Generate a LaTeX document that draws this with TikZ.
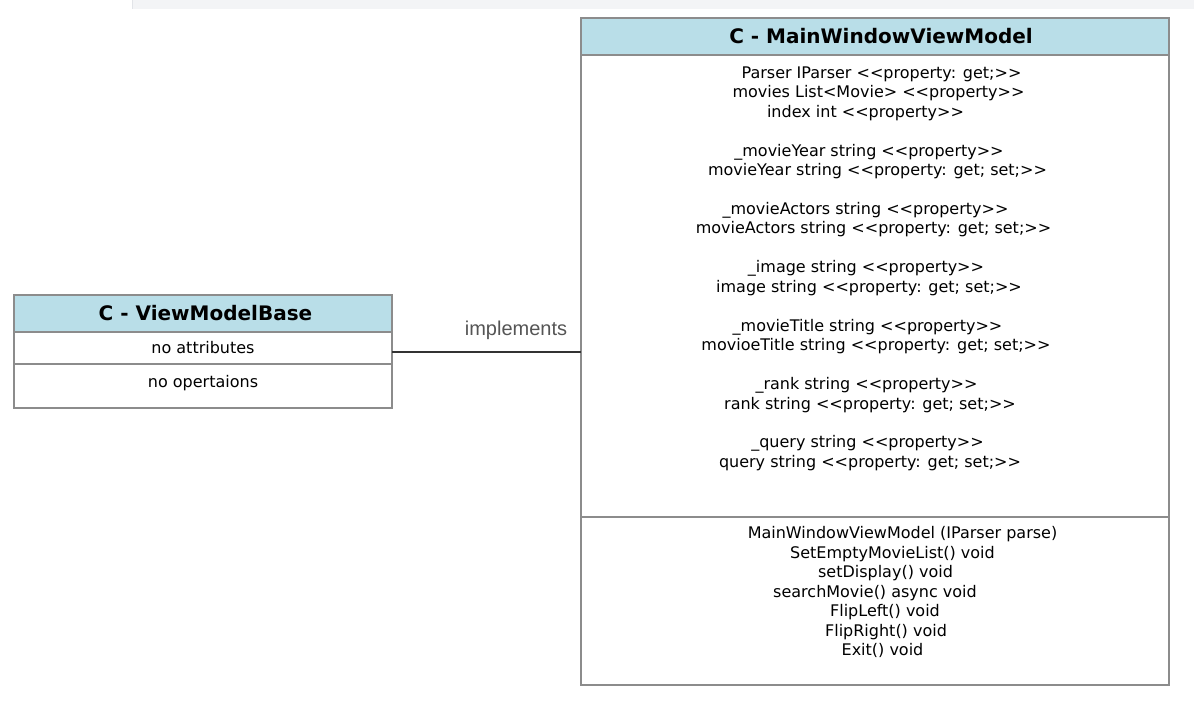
\documentclass[tikz,border=0pt]{standalone}
\usepackage{fontspec}
\setmainfont{DejaVu Sans}
\newfontfamily\lblfont{Liberation Sans}
\usetikzlibrary{positioning}
\definecolor{headblue}{RGB}{185,222,232}
\definecolor{boxgrey}{RGB}{140,140,140}
\definecolor{bargrey}{RGB}{243,244,246}
\definecolor{baredge}{RGB}{226,228,232}
\definecolor{linkgrey}{RGB}{51,51,51}
\definecolor{lblgrey}{RGB}{85,85,85}
% shift one centred member line sideways
\newcommand{\nudge}[1]{\hspace*{#1pt}}

\begin{document}
\begin{tikzpicture}[x=1pt,y=-1pt,
    clshead/.style={draw=boxgrey, fill=headblue, line width=1.3pt, outer sep=0pt,
      inner sep=0pt, font=\fontsize{20}{22}\selectfont\bfseries},
    clsrow/.style={draw=boxgrey, line width=1.3pt, outer sep=0pt, inner sep=0pt,
      font=\fontsize{16}{19.45}\selectfont},
    membertxt/.style={inner sep=0pt, align=center, font=\fontsize{16}{19.45}\selectfont},
    link/.style={draw=linkgrey, line width=1.5pt},
    lbl/.style={inner sep=0pt, text=lblgrey, font=\lblfont\fontsize{20}{22}\selectfont},
  ]
  \useasboundingbox (0,0) rectangle (1194,706);
  \fill[bargrey] (132,0) rectangle (1194,9);
  \draw[baredge] (132,0) -- (132,9);

  % MainWindowViewModel
  \node[clshead, minimum width=588pt, minimum height=37pt, anchor=north west] (mwhead) at (581,18) {\nudge{12}C - MainWindowViewModel};
  \node[clsrow, minimum width=588pt, minimum height=462pt, below=0pt of mwhead] (mwattr) {};
  \node[clsrow, minimum width=588pt, minimum height=168pt, below=0pt of mwattr] (mwops) {};
  \node[membertxt, anchor=north] (mwattrtxt) at ([yshift=-11.5pt]mwattr.north) {%
    \nudge{13}Parser IParser <{}<property: get;>{}>\\
    \nudge{7}movies List<Movie> <{}<property>{}>\\
    \nudge{-19}index int <{}<property>{}>\\[19.45pt]
    \nudge{-12}\_movieYear string <{}<property>{}>\\
    \nudge{5}movieYear string <{}<property: get; set;>{}>\\[19.45pt]
    \nudge{-19}\_movieActors string <{}<property>{}>\\
    \nudge{-3}movieActors string <{}<property: get; set;>{}>\\[19.45pt]
    \nudge{-18}\_image string <{}<property>{}>\\
    \nudge{-12}image string <{}<property: get; set;>{}>\\[19.45pt]
    \nudge{-15}\_movieTitle string <{}<property>{}>\\
    \nudge{2}movioeTitle string <{}<property: get; set;>{}>\\[19.45pt]
    \nudge{-17}\_rank string <{}<property>{}>\\
    \nudge{-10}rank string <{}<property: get; set;>{}>\\[19.45pt]
    \nudge{-15}\_query string <{}<property>{}>\\
    \nudge{-10}query string <{}<property: get; set;>{}>};
  \node[membertxt, anchor=north] (mwopstxt) at ([yshift=-9.5pt]mwops.north) {%
    \nudge{55}MainWindowViewModel (IParser parse)\\
    \nudge{35}SetEmptyMovieList() void\\
    \nudge{21}setDisplay() void\\
    searchMovie() async void\\
    \nudge{20}FlipLeft() void\\
    \nudge{22}FlipRight() void\\
    \nudge{15}Exit() void};

  % ViewModelBase
  \node[clshead, minimum width=378pt, minimum height=37pt, anchor=north west] (vmbhead) at (14,295) {\nudge{5}C - ViewModelBase};
  \node[clsrow, minimum width=378pt, minimum height=32pt, below=0pt of vmbhead] (vmbattr) {no attributes};
  \node[clsrow, minimum width=378pt, minimum height=44pt, below=0pt of vmbattr] (vmbops) {};
  \node[membertxt, anchor=north] (vmbopstxt) at ([yshift=-11pt]vmbops.north) {no opertaions};

  \draw[link] ([yshift=-4pt]vmbattr.east) -- ([yshift=-4pt]vmbattr.east -| mwattr.west)
    node[lbl, pos=0.656, yshift=22pt] (impl) {implements};
\end{tikzpicture}
\end{document}
